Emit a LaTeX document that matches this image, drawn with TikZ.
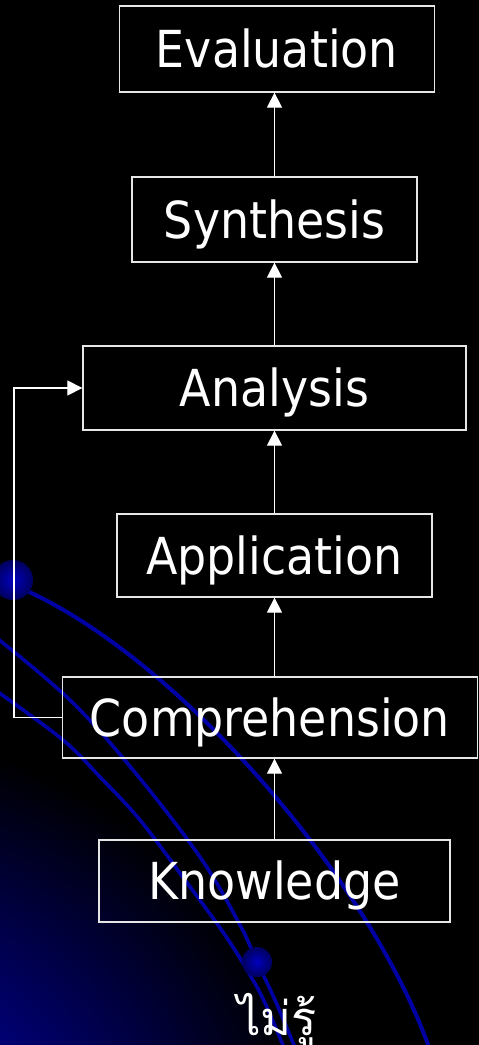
\documentclass[tikz,border=0pt]{standalone}
\usepackage{fontspec}
\setmainfont{DejaVu Sans Condensed}
\newfontfamily\thaifont[Script=Thai]{Loma}
\usetikzlibrary{arrows.meta}

\definecolor{navyline}{RGB}{0,0,165}
\definecolor{globeblue}{RGB}{0,0,215}
\definecolor{ballhi}{RGB}{0,0,190}
\definecolor{balllo}{RGB}{0,0,95}
\definecolor{boxline}{RGB}{230,230,230}

\tikzset{
  level/.style={draw=boxline, line width=1.3bp, inner sep=0pt, text=white,
    font=\fontsize{51bp}{60bp}\selectfont, text height=37bp, text depth=0bp},
  uparrow/.style={draw=white, line width=1.3bp,
    -{Triangle[length=15bp,width=15bp]}},
  orbit/.style={draw=navyline, line width=3.6bp, line cap=round},
  ball/.style={inner color=ballhi, outer color=balllo}
}

\begin{document}
\begin{tikzpicture}[x=1bp,y=-1bp]
  % canvas
  \fill[black] (0,0) rectangle (479,1045);
  \useasboundingbox (0,0) rectangle (479,1045);

  % background globe and orbits
  \begin{scope}
    \clip (0,0) rectangle (479,1045);
    \shade[inner color=globeblue, outer color=black] (-150,1200) circle (470);
    \draw[orbit, line width=4bp] (25,590) .. controls (180,660) and (370,880) .. (430,1050);
    \draw[orbit] plot[smooth, tension=0.6] coordinates
      {(-2,639) (70,700) (133,770) (200,857) (240,925) (257,962)
       (275,1000) (296,1050)};
    \draw[orbit] plot[smooth, tension=0.6] coordinates
      {(-2,692) (63,740) (100,777) (140,820) (185,880) (225,935)
       (250,975) (265,1003) (285,1050)};
    \shade[ball] (13,580) circle (20);
    \shade[ball] (257,962) circle (15);
  \end{scope}

  % taxonomy levels
  \node[level, minimum width=315bp, minimum height=86bp] (eval)  at (277,49)    {Evaluation};
  \node[level, minimum width=285bp, minimum height=85bp] (synth) at (274.5,219.5) {Synthesis};
  \node[level, minimum width=383bp, minimum height=84bp] (anal)  at (274.5,388)  {Analysis};
  \node[level, minimum width=315bp, minimum height=83bp] (appl)  at (274.5,555.5) {Application};
  \node[level, minimum width=415bp, minimum height=81bp] (comp)  at (270,717.5)  {Comprehension};
  \node[level, minimum width=351bp, minimum height=82bp] (know)  at (274.5,881)  {Knowledge};

  \node[anchor=base, text=white, inner sep=0pt,
        font=\thaifont\fontsize{47bp}{50bp}\selectfont] (none) at (277,1035) {ไม่รู้};

  % upward links
  \coordinate (axis) at (274.5,0);
  \draw[uparrow] (know.north)  -- (axis |- comp.south);
  \draw[uparrow] (axis |- comp.north) -- (appl.south);
  \draw[uparrow] (appl.north)  -- (anal.south);
  \draw[uparrow] (anal.north)  -- (synth.south);
  \draw[uparrow] (synth.north) -- (axis |- eval.south);

  % shortcut from comprehension to analysis
  \coordinate (bend) at (14,717.5);
  \draw[uparrow] (comp.west) -- (bend) |- (anal.west);
\end{tikzpicture}
\end{document}
